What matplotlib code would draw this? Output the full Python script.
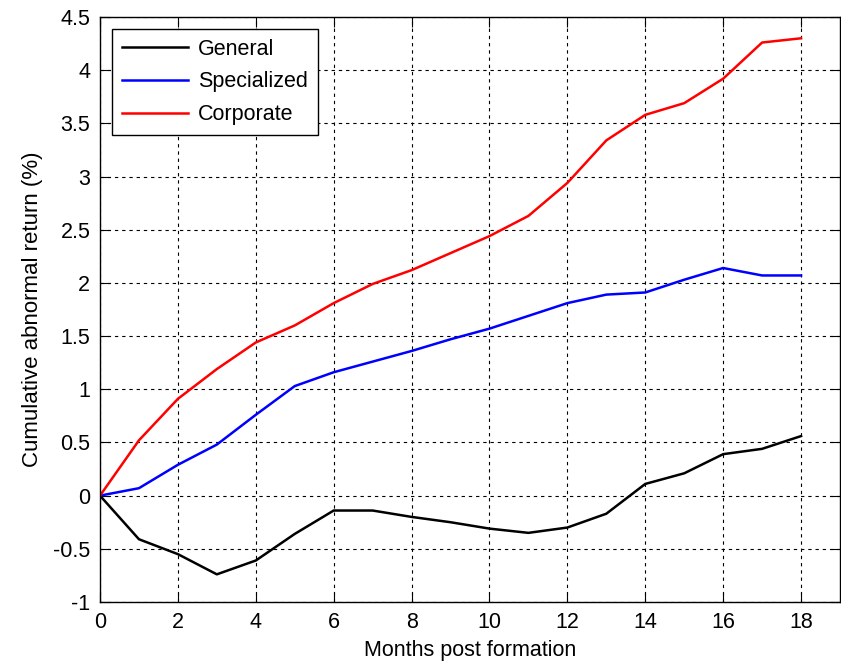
import numpy as np
import matplotlib.pyplot as plt

plt.rcParams['font.family'] = ['Liberation Sans', 'DejaVu Sans']

months = list(range(19))
general = [0, -0.41, -0.55, -0.74, -0.61, -0.36, -0.14, -0.14, -0.20, -0.25,
           -0.31, -0.35, -0.30, -0.17, 0.11, 0.21, 0.39, 0.44, 0.56]
specialized = [0, 0.07, 0.29, 0.48, 0.76, 1.03, 1.16, 1.26, 1.36, 1.47,
               1.57, 1.69, 1.81, 1.89, 1.91, 2.03, 2.14, 2.07, 2.07]
corporate = [0, 0.52, 0.91, 1.19, 1.44, 1.60, 1.81, 1.99, 2.12, 2.28,
             2.44, 2.63, 2.94, 3.34, 3.58, 3.69, 3.92, 4.26, 4.30]

xticks = list(range(0, 19, 2))
yticks = [-1, -0.5, 0, 0.5, 1, 1.5, 2, 2.5, 3, 3.5, 4, 4.5]
ytick_labels = ['-1', '-0.5', '0', '0.5', '1', '1.5', '2', '2.5', '3', '3.5', '4', '4.5']

fs = 15.5

fig = plt.figure(figsize=(8.41, 6.62), dpi=100)
ax = fig.add_axes([100 / 841, 60 / 662, 740 / 841, 585 / 662])

ax.plot(months, general, color='black', lw=1.8, label='General')
ax.plot(months, specialized, color='blue', lw=1.8, label='Specialized')
ax.plot(months, corporate, color='red', lw=1.8, label='Corporate')

ax.set_xlim(0, 19)
ax.set_ylim(-1, 4.5)
ax.set_xticks(xticks)
ax.set_yticks(yticks)
ax.set_yticklabels(ytick_labels)
ax.grid(True, color='black', linestyle=(0, (3, 3.5)), lw=0.8)
ax.tick_params(direction='in', top=True, right=True, labelsize=fs, length=7, pad=7)
for s in ax.spines.values():
    s.set_linewidth(1.0)

ax.set_xlabel('Months post formation', fontsize=fs, labelpad=5)
ax.set_ylabel('Cumulative abnormal return (%)', fontsize=16, labelpad=7)

leg = ax.legend(loc='upper left', fontsize=fs, fancybox=False, framealpha=1,
                edgecolor='black', handlelength=3.1, handletextpad=0.45,
                borderaxespad=0.55, labelspacing=0.55, borderpad=0.45)
leg.get_frame().set_linewidth(1.0)

fig.savefig('out.png', dpi=100)
